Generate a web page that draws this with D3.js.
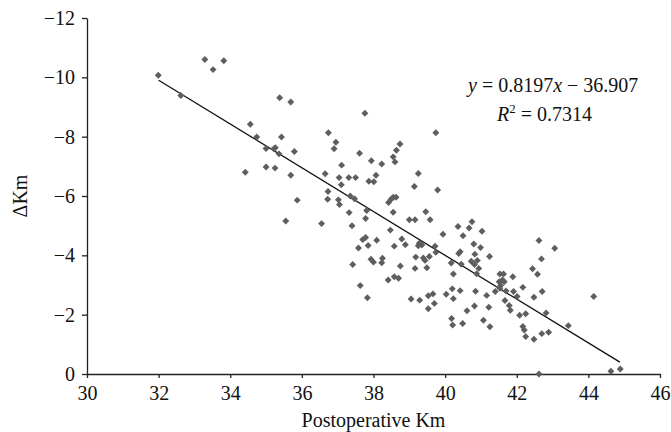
<!DOCTYPE html>
<html lang="en">
<head>
    <meta charset="UTF-8">
    <title>Postoperative Km vs ΔKm</title>
    <script src="https://d3js.org/d3.v7.min.js"></script>
    <style>
        body { margin: 0; background: #fff; }
        text { font-family: "Liberation Serif", "Times New Roman", serif; fill: #111; }
    </style>
</head>
<body>
    <script>
        // postoperative Km (x) and change in Km (y)
        const postKm = [
            31.99, 33.29, 33.52, 33.82, 32.62, 35.38, 35.69, 34.56, 34.74, 35.43,
            36.74, 35.00, 35.22, 35.26, 35.36, 35.79, 34.42, 35.00, 35.25, 35.69,
            36.65, 36.73, 35.87, 36.72, 35.55, 36.55, 37.76, 39.74, 36.95, 36.90,
            38.74, 38.64, 37.61, 38.55, 38.60, 37.94, 38.23, 37.11, 39.25, 37.04,
            37.31, 37.50, 38.07, 37.87, 38.01, 37.10, 39.14, 39.79, 37.02, 37.05,
            37.35, 37.47, 38.55, 38.63, 38.49, 38.42, 37.81, 38.55, 37.32, 39.46,
            39.00, 39.16, 39.58, 37.78, 37.40, 38.47, 40.36, 40.75, 40.67, 41.03,
            39.94, 40.50, 37.70, 37.78, 38.09, 38.79, 38.89, 38.58, 37.58, 37.85,
            39.28, 39.25, 39.35, 39.72, 40.80, 40.99, 40.42, 40.38, 40.83, 37.93,
            38.00, 38.25, 38.23, 39.18, 39.39, 39.56, 39.74, 41.24, 37.42, 38.75,
            39.16, 39.49, 40.17, 40.45, 40.23, 40.73, 40.82, 40.94, 40.88, 37.63,
            37.83, 38.41, 38.58, 38.70, 39.05, 39.29, 39.53, 39.66, 39.70, 39.53,
            40.03, 40.20, 40.42, 40.23, 40.85, 41.16, 40.61, 40.82, 41.22, 40.18,
            40.21, 40.49, 41.07, 41.25, 40.90, 39.44, 41.53, 41.63, 41.60, 41.51,
            41.65, 41.55, 41.53, 41.89, 41.70, 41.91, 42.01, 41.67, 41.79, 41.82,
            41.40, 42.08, 42.17, 42.21, 42.17, 42.25, 42.44, 42.58, 42.62, 42.69,
            43.06, 42.71, 42.48, 42.82, 42.25, 42.48, 42.70, 42.89, 43.44, 44.15,
            42.62, 44.63, 44.89
        ];
        const deltaKm = [
            -10.07, -10.60, -10.26, -10.56, -9.39, -9.31, -9.17, -8.42, -7.99, -7.99,
            -8.13, -7.60, -7.59, -7.63, -7.42, -7.50, -6.80, -6.98, -6.94, -6.70,
            -6.75, -6.15, -5.86, -5.89, -5.16, -5.07, -8.79, -8.13, -7.81, -7.59,
            -7.75, -7.54, -7.44, -7.32, -7.15, -7.19, -7.08, -7.04, -6.76, -6.62,
            -6.62, -6.62, -6.70, -6.50, -6.48, -6.38, -6.32, -6.20, -5.87, -5.71,
            -6.00, -5.91, -5.96, -5.96, -5.89, -5.78, -5.51, -5.45, -5.44, -5.47,
            -5.20, -5.20, -5.20, -5.24, -5.00, -4.85, -4.97, -5.13, -4.92, -4.81,
            -4.71, -4.66, -4.53, -4.60, -4.51, -4.55, -4.36, -4.31, -4.25, -4.33,
            -4.41, -4.32, -4.35, -4.31, -4.38, -4.26, -4.12, -4.06, -4.04, -3.87,
            -3.77, -3.90, -3.75, -3.94, -3.91, -3.96, -4.10, -3.96, -3.69, -3.64,
            -3.56, -3.58, -3.74, -3.70, -3.37, -3.80, -3.69, -3.56, -3.38, -2.98,
            -2.57, -3.17, -3.28, -3.23, -2.53, -2.49, -2.64, -2.70, -2.38, -2.20,
            -2.69, -2.87, -2.81, -2.54, -2.79, -2.65, -2.13, -2.29, -2.25, -1.87,
            -1.65, -1.70, -1.81, -1.59, -3.83, -3.83, -3.37, -3.37, -3.17, -3.11,
            -3.11, -2.98, -2.89, -3.28, -2.80, -2.78, -2.61, -2.48, -2.31, -2.15,
            -2.78, -1.98, -1.60, -1.48, -2.92, -2.03, -3.55, -3.36, -4.50, -3.88,
            -4.24, -2.78, -2.59, -2.06, -1.26, -1.17, -1.36, -1.41, -1.63, -2.61,
            0.00, -0.09, -0.17
        ];

        // trend line end points as drawn
        const trendX = [32, 44.88];
        const trendY = [-9.9, -0.4];

        const xTicks = [30, 32, 34, 36, 38, 40, 42, 44, 46];
        const yTicks = [0, -2, -4, -6, -8, -10, -12];

        const margin = { top: 18, right: 11, bottom: 58, left: 87 };
        const width = 671 - margin.left - margin.right;
        const height = 432 - margin.top - margin.bottom;

        const svg = d3.select("body")
                        .append("svg")
                            .attr("width", width + margin.left + margin.right)
                            .attr("height", height + margin.top + margin.bottom)
                        .append("g")
                            .attr("transform", `translate(${margin.left},${margin.top})`);

        const xScale = d3.scaleLinear()
            .domain([30, 46])
            .range([0, width]);

        const yScale = d3.scaleLinear()
            .domain([0, -12])
            .range([height, 0]);

        const xAxis = svg.append("g")
            .attr("transform", `translate(0,${height})`)
            .call(d3.axisBottom(xScale).tickValues(xTicks).tickSize(4).tickSizeOuter(0).tickPadding(8));

        const yAxis = svg.append("g")
            .call(d3.axisLeft(yScale).tickValues(yTicks).tickSize(5).tickSizeOuter(0).tickPadding(7));

        [xAxis, yAxis].forEach(a => {
            a.selectAll("path, line").attr("stroke", "#222").attr("stroke-width", 1.3);
            a.selectAll("text")
                .style("font-family", "'Liberation Serif', serif")
                .style("font-size", "20px")
                .attr("fill", "#111");
        });

        svg.append("text")
            .attr("x", width / 2)
            .attr("y", height + 53)
            .attr("text-anchor", "middle")
            .style("font-size", "20px")
            .text("Postoperative Km");

        svg.append("text")
            .attr("transform", `translate(${-margin.left + 27},${height / 2}) rotate(-90)`)
            .attr("text-anchor", "middle")
            .style("font-size", "20px")
            .text("ΔKm");

        // regression line
        svg.append("line")
            .attr("x1", xScale(trendX[0]))
            .attr("y1", yScale(trendY[0]))
            .attr("x2", xScale(trendX[1]))
            .attr("y2", yScale(trendY[1]))
            .attr("stroke", "#111")
            .attr("stroke-width", 1.3);

        const diamond = d3.symbol().type(d3.symbolSquare).size(24);

        svg.selectAll(".pt")
            .data(d3.range(postKm.length))
            .enter()
            .append("path")
            .attr("class", "pt")
            .attr("d", diamond)
            .attr("transform", i => `translate(${xScale(postKm[i])},${yScale(deltaKm[i])}) rotate(45)`)
            .attr("fill", "#5e5e5e");

        // equation
        const eq = svg.append("text")
            .attr("x", 468 - margin.left)
            .attr("y", 92 - margin.top)
            .style("font-size", "20px");
        eq.append("tspan").style("font-style", "italic").text("y");
        eq.append("tspan").text(" = 0.8197");
        eq.append("tspan").style("font-style", "italic").text("x");
        eq.append("tspan").text(" \u2212 36.907");

        const r2 = svg.append("text")
            .attr("x", 497 - margin.left)
            .attr("y", 121 - margin.top)
            .style("font-size", "20px");
        r2.append("tspan").style("font-style", "italic").text("R");
        r2.append("tspan").attr("dy", -8).style("font-size", "13px").text("2");
        r2.append("tspan").attr("dy", 8).text(" = 0.7314");
    </script>
</body>
</html>
